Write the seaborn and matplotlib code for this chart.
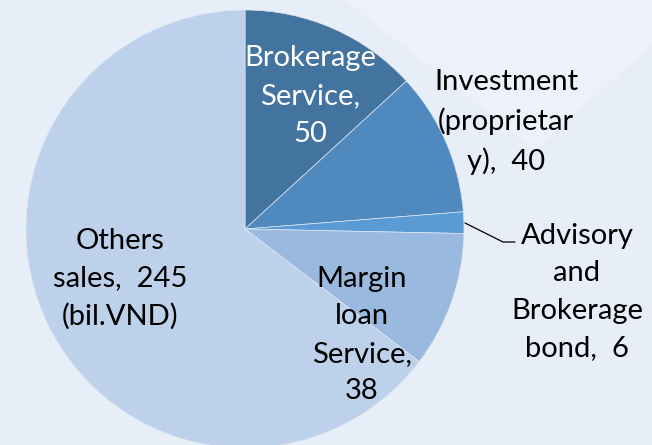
import matplotlib
matplotlib.use("Agg")
import matplotlib.pyplot as plt
import seaborn as sns

# revenue structure (bil.VND)
labels = ["Brokerage\nService,\n50",
          "Investment\n(proprietar\ny),  40",
          "Advisory\nand\nBrokerage\nbond,  6",
          "Margin\nloan\nService,\n38",
          "Others\nsales,  245\n(bil.VND)"]
values = [50, 40, 6, 38, 245]
colors = ["#43739f", "#4f89bd", "#5b9bd5", "#9ab9df", "#bdd1ea"]
text_colors = ["white", "black", "black", "black", "black"]

sns.set_theme(style="white")
plt.rcParams["font.family"] = ["Lato", "DejaVu Sans"]

W, H = 652, 445
fig = plt.figure(figsize=(6.52, 4.45), dpi=100)
fig.patch.set_facecolor("#e7eef8")
ax = fig.add_axes([0, 0, 1, 1])
ax.set_facecolor("#e7eef8")

# faint lighter wedge in the background
ax.fill([345, 535, 652, 652], [H, H - 150, H - 45, H], color="#edf2fa",
        zorder=0, lw=0)

cx, cy, r = 245, H - 229, 219
wedges, _ = ax.pie(values, colors=colors, startangle=90, counterclock=False,
                   center=(cx, cy), radius=r,
                   wedgeprops=dict(linewidth=0.5, edgecolor="#dfe7f3"))

# label positions in pixel terms (x, y from top)
label_pos = [(310, 96), (506, 122), (577, 292), (362, 335), (120, 279)]
for lab, (x, y), tc in zip(labels, label_pos, text_colors):
    ax.text(x, H - y, lab, ha="center", va="center", color=tc,
            fontsize=21, linespacing=1.55)

# leader line for the small slice
ax.plot([465, 503, 515], [H - 223, H - 242, H - 242], color="black", lw=0.9)

ax.set_xlim(0, W)
ax.set_ylim(0, H)
ax.set_aspect("equal")
ax.axis("off")

fig.savefig("out.png", dpi=100, facecolor=fig.get_facecolor())
